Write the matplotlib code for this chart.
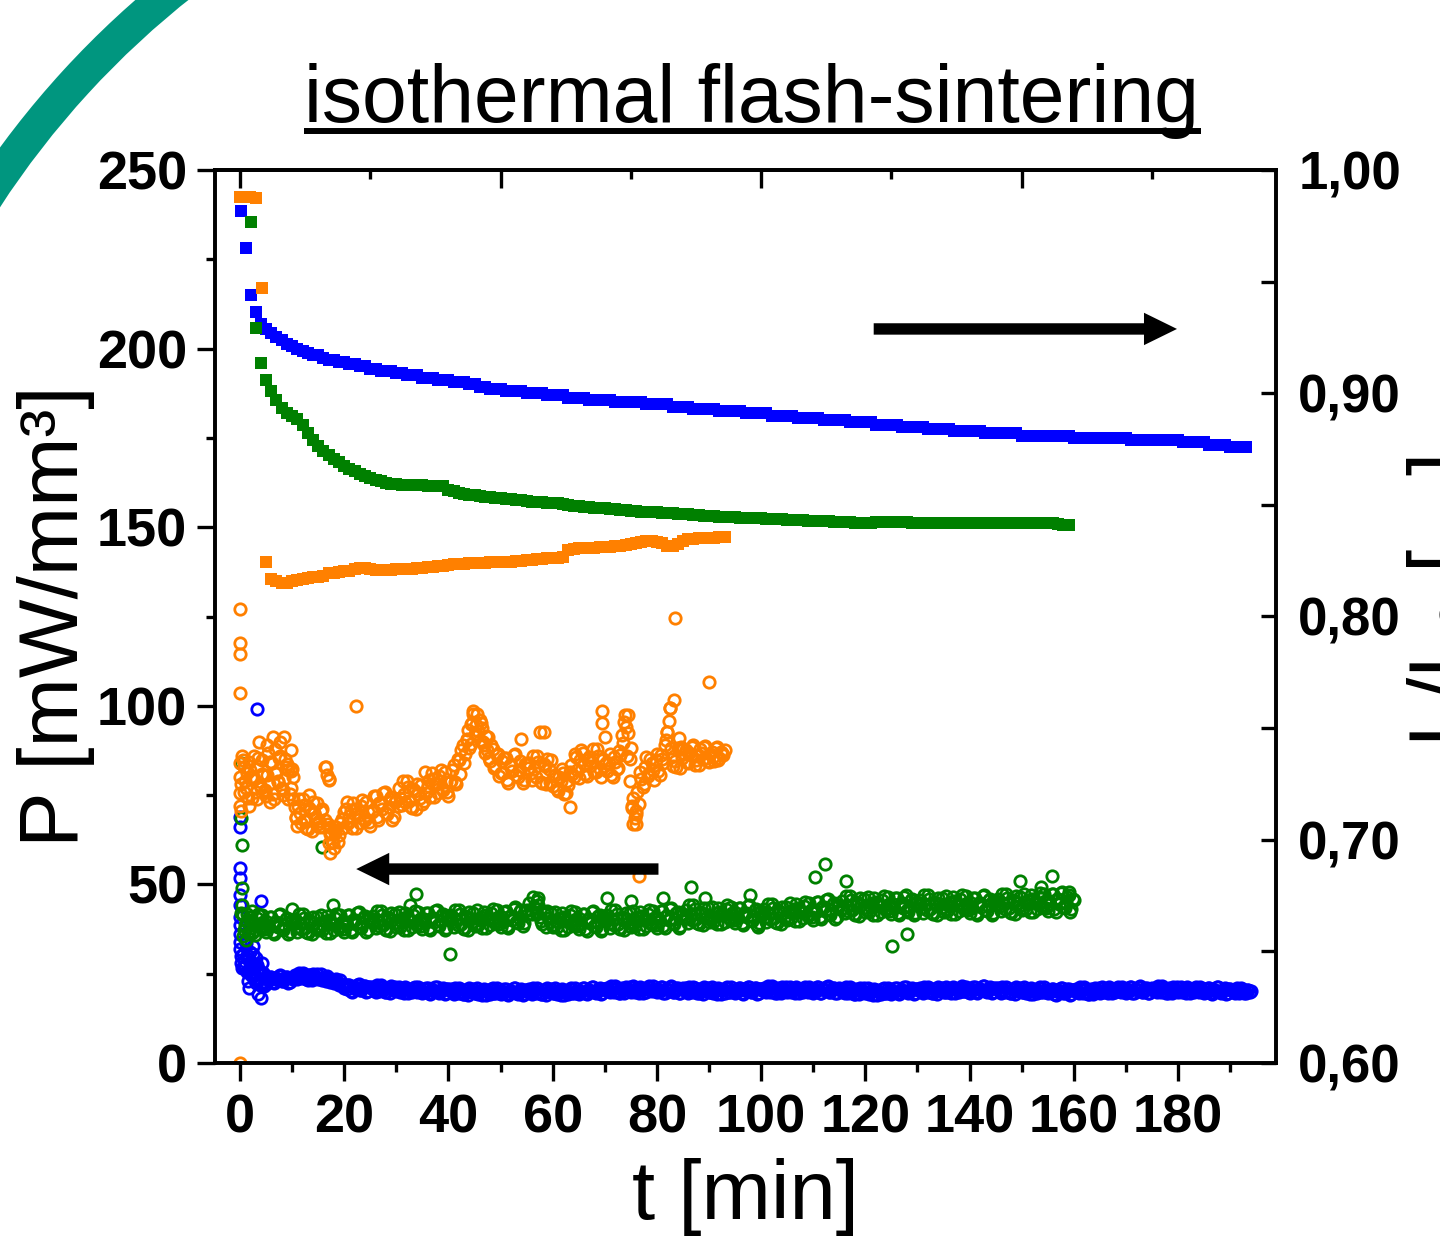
import numpy as np
import matplotlib as mpl
mpl.use('Agg')
import matplotlib.pyplot as plt
from matplotlib.patches import Wedge
from matplotlib.ticker import MultipleLocator, FuncFormatter

# ---------------- shrinkage L/L0 (right axis, filled squares) ----------------
# first readings before the 1-min logging starts
t_blue_L0 = [0.1, 1.15, 2.1, 3.1]
L_blue0 = [0.9818, 0.9651, 0.944, 0.9365]
# one value per minute from t = 4 min
L_blue = [
    .931, .929, .927, .925, .924, .922, .921, .920, .919, .918,
    .917, .917, .916, .915, .915, .914, .914, .913, .913, .912,
    .912, .911, .911, .910, .910, .910, .909, .909, .908, .908,
    .908, .907, .907, .907, .906, .906, .906, .905, .905, .905,
    .904, .904, .903, .903, .902, .902, .902, .901, .901, .901,
    .901, .900, .900, .900, .900, .899, .899, .899, .899, .898,
    .898, .898, .898, .897, .897, .897, .897, .897, .896, .896,
    .896, .896, .896, .896, .895, .895, .895, .895, .895, .894,
    .894, .894, .894, .893, .893, .893, .893, .893, .892, .892,
    .892, .892, .892, .891, .891, .891, .891, .891, .890, .890,
    .890, .890, .890, .889, .889, .889, .889, .889, .888, .888,
    .888, .888, .888, .887, .887, .887, .887, .887, .886, .886,
    .886, .886, .886, .885, .885, .885, .885, .885, .884, .884,
    .884, .884, .884, .883, .883, .883, .883, .883, .883, .882,
    .882, .882, .882, .882, .882, .882, .881, .881, .881, .881,
    .881, .881, .881, .881, .881, .881, .880, .880, .880, .880,
    .880, .880, .880, .880, .880, .880, .880, .879, .879, .879,
    .879, .879, .879, .879, .879, .879, .879, .878, .878, .878,
    .878, .878, .877, .877, .877, .877, .876, .876, .876, .876]

t_green_L0 = [2.1, 3.1]
L_green0 = [0.9768, 0.9294]
# one value per minute from t = 4 min
L_green = [
    .9136, .9059, .9008, .8970, .8936, .8910, .8896, .8885, .8856, .8824,
    .8790, .8765, .8742, .8723, .8707, .8690, .8675, .8662, .8650, .8640,
    .8630, .8620, .8613, .8605, .8598, .8595, .8593, .8591, .8590, .8589,
    .8588, .8587, .8586, .8585, .8584, .8583, .8568, .8560, .8555, .8550,
    .8546, .8542, .8539, .8536, .8534, .8531, .8530, .8528, .8525, .8522,
    .8520, .8516, .8514, .8512, .8511, .8510, .8509, .8508, .8506, .8499,
    .8496, .8494, .8492, .8490, .8488, .8486, .8484, .8482, .8480, .8478,
    .8476, .8474, .8472, .8470, .8468, .8467, .8466, .8465, .8463, .8462,
    .8461, .8459, .8457, .8455, .8453, .8451, .8450, .8448, .8447, .8446,
    .8445, .8444, .8443, .8442, .8441, .8440, .8439, .8438, .8437, .8436,
    .8435, .8434, .8433, .8432, .8431, .8430, .8429, .8428, .8427, .8426,
    .8425, .8424, .8423, .8422, .8421, .8420, .8420, .8421, .8422, .8422,
    .8422, .8422, .8422, .8422, .8422, .8421, .8421, .8421, .8421, .8421,
    .8421, .8421, .8421, .8421, .8420, .8420, .8420, .8420, .8420, .8420,
    .8420, .8420, .8420, .8420, .8419, .8419, .8419, .8419, .8419, .8419,
    .8418, .8418, .8418, .8416, .8412, .8408]

t_orange_L0 = [0.0, 1.0, 2.0, 3.0, 4.2, 5.0]
L_orange0 = [0.988, 0.988, 0.9878, 0.9875, 0.947, 0.8245]
# one value per minute from t = 6 min
L_orange = [
    .8168, .8157, .8152, .8152, .8157, .8163, .8168, .8171, .8176, .8179,
    .8181, .8197, .8197, .8200, .8203, .8205, .8213, .8216, .8216, .8214,
    .8208, .8208, .8209, .8210, .8211, .8212, .8213, .8214, .8216, .8218,
    .8220, .8222, .8225, .8228, .8231, .8234, .8236, .8237, .8238, .8239,
    .8240, .8241, .8242, .8243, .8244, .8245, .8246, .8248, .8250, .8252,
    .8254, .8256, .8258, .8260, .8262, .8264, .8266, .8300, .8304, .8306,
    .8307, .8308, .8309, .8310, .8311, .8313, .8315, .8318, .8321, .8325,
    .8330, .8334, .8336, .8336, .8334, .8328, .8318, .8315, .8325, .8338,
    .8345, .8348, .8350, .8351, .8352, .8353, .8354, .8355]

# ---------------- power density P (left axis, open circles) ----------------
# readings every 0.5 min from t = 0.5 min ...
P_blue = [
    30.5, 27.2, 29.0, 25.1, 27.9, 23.6, 26.4, 22.5, 25.3, 22.0,
    23.2, 24.2, 22.5, 23.7, 24.4, 23.0, 23.4, 24.1, 22.7, 23.9,
    24.7, 23.5, 24.3, 25.2, 23.8, 23.3, 24.5, 25.0, 24.0, 23.6,
    24.9, 23.8, 22.9, 23.8, 23.2, 22.3, 23.4, 21.9, 22.1, 21.1,
    20.7, 21.7, 20.0, 21.2, 21.9, 20.5, 20.9, 21.6, 20.2, 21.4,
    21.2, 20.0, 20.8, 21.7, 20.3, 19.8, 21.0, 21.5, 20.5, 20.1,
    21.3, 20.3, 19.5, 20.8, 20.5, 19.8, 21.4, 20.0, 20.6, 19.6,
    20.0, 21.0, 19.3, 20.5, 21.2, 19.8, 20.2, 20.9, 19.5, 20.7,
    20.6, 19.4, 20.2, 21.1, 19.7, 19.2, 20.4, 20.9, 19.9, 19.5,
    20.9, 19.9, 19.1, 20.4, 20.1, 19.4, 21.0, 19.6, 20.2, 19.2,
    19.7, 20.7, 19.0, 20.2, 20.9, 19.5, 19.9, 20.6, 19.2, 20.4,
    20.6, 19.4, 20.2, 21.1, 19.7, 19.2, 20.4, 20.9, 19.9, 19.5,
    20.9, 19.9, 19.1, 20.4, 20.1, 19.4, 21.0, 19.6, 20.2, 19.2,
    20.0, 21.0, 19.3, 20.5, 21.2, 19.8, 20.2, 20.9, 19.5, 20.7,
    21.0, 19.8, 20.6, 21.5, 20.1, 19.6, 20.8, 21.3, 20.3, 19.9,
    21.5, 20.5, 19.7, 21.0, 20.7, 20.0, 21.6, 20.2, 20.8, 19.8,
    20.2, 21.2, 19.5, 20.7, 21.4, 20.0, 20.4, 21.1, 19.7, 20.9,
    20.9, 19.7, 20.5, 21.4, 20.0, 19.5, 20.7, 21.2, 20.2, 19.8,
    21.2, 20.2, 19.4, 20.7, 20.4, 19.7, 21.3, 19.9, 20.5, 19.5,
    20.1, 21.1, 19.4, 20.6, 21.3, 19.9, 20.3, 21.0, 19.6, 20.8,
    21.0, 19.8, 20.6, 21.5, 20.1, 19.6, 20.8, 21.3, 20.3, 19.9,
    21.3, 20.3, 19.5, 20.8, 20.5, 19.8, 21.4, 20.0, 20.6, 19.6,
    20.2, 21.2, 19.5, 20.7, 21.4, 20.0, 20.4, 21.1, 19.7, 20.9,
    20.7, 19.5, 20.3, 21.2, 19.8, 19.3, 20.5, 21.0, 20.0, 19.6,
    20.9, 19.9, 19.1, 20.4, 20.1, 19.4, 21.0, 19.6, 20.2, 19.2,
    20.0, 21.0, 19.3, 20.5, 21.2, 19.8, 20.2, 20.9, 19.5, 20.7,
    20.9, 19.7, 20.5, 21.4, 20.0, 19.5, 20.7, 21.2, 20.2, 19.8,
    21.4, 20.4, 19.6, 20.9, 20.6, 19.9, 21.5, 20.1, 20.7, 19.7,
    20.3, 21.3, 19.6, 20.8, 21.5, 20.1, 20.5, 21.2, 19.8, 21.0,
    20.9, 19.7, 20.5, 21.4, 20.0, 19.5, 20.7, 21.2, 20.2, 19.8,
    21.2, 20.2, 19.4, 20.7, 20.4, 19.7, 21.3, 19.9, 20.5, 19.5,
    19.8, 20.8, 19.1, 20.3, 21.0, 19.6, 20.0, 20.7, 19.3, 20.5,
    20.7, 19.5, 20.3, 21.2, 19.8, 19.3, 20.5, 21.0, 20.0, 19.6,
    21.3, 20.3, 19.5, 20.8, 20.5, 19.8, 21.4, 20.0, 20.6, 19.6,
    20.2, 21.2, 19.5, 20.7, 21.4, 20.0, 20.4, 21.1, 19.7, 20.9,
    21.0, 19.8, 20.6, 21.5, 20.1, 19.6, 20.8, 21.3, 20.3, 19.9,
    21.3, 20.3, 19.5, 20.8, 20.5, 19.8, 21.4, 20.0, 20.6, 19.6,
    20.0, 21.0, 19.3, 20.5, 21.2, 19.8, 20.2, 20.9, 19.5, 20.7,
    20.5, 19.6, 20.2, 20.9, 19.8, 19.5, 20.3, 20.2]
# ... and the interleaved readings every 0.5 min from t = 0.75 min
P_blue_b = [
    28.6, 30.2, 26.3, 27.0, 24.8, 26.1, 23.4, 24.9, 22.6, 23.5,
    24.2, 22.7, 23.7, 23.3, 24.5, 22.9, 24.0, 22.5, 23.8, 23.5,
    24.0, 25.2, 23.7, 24.8, 23.4, 24.6, 23.2, 24.3, 24.9, 23.8,
    23.3, 24.2, 24.4, 22.6, 23.1, 23.3, 22.3, 23.2, 21.5, 21.9,
    21.7, 20.2, 21.2, 20.8, 22.0, 20.4, 21.5, 20.0, 21.3, 21.0,
    20.5, 21.7, 20.2, 21.3, 19.9, 21.1, 19.7, 20.8, 21.4, 20.3,
    19.8, 20.7, 21.2, 19.5, 20.4, 21.0, 20.1, 21.3, 19.9, 20.6,
    21.0, 19.5, 20.5, 20.1, 21.3, 19.7, 20.8, 19.3, 20.6, 20.3,
    19.9, 21.1, 19.6, 20.7, 19.3, 20.5, 19.1, 20.2, 20.8, 19.7,
    19.4, 20.3, 20.8, 19.1, 20.0, 20.6, 19.7, 20.9, 19.5, 20.2,
    20.7, 19.2, 20.2, 19.8, 21.0, 19.4, 20.5, 19.0, 20.3, 20.0,
    19.9, 21.1, 19.6, 20.7, 19.3, 20.5, 19.1, 20.2, 20.8, 19.7,
    19.4, 20.3, 20.8, 19.1, 20.0, 20.6, 19.7, 20.9, 19.5, 20.2,
    21.0, 19.5, 20.5, 20.1, 21.3, 19.7, 20.8, 19.3, 20.6, 20.3,
    20.3, 21.5, 20.0, 21.1, 19.7, 20.9, 19.5, 20.6, 21.2, 20.1,
    20.0, 20.9, 21.4, 19.7, 20.6, 21.2, 20.3, 21.5, 20.1, 20.8,
    21.2, 19.7, 20.7, 20.3, 21.5, 19.9, 21.0, 19.5, 20.8, 20.5,
    20.2, 21.4, 19.9, 21.0, 19.6, 20.8, 19.4, 20.5, 21.1, 20.0,
    19.7, 20.6, 21.1, 19.4, 20.3, 20.9, 20.0, 21.2, 19.8, 20.5,
    21.1, 19.6, 20.6, 20.2, 21.4, 19.8, 20.9, 19.4, 20.7, 20.4,
    20.3, 21.5, 20.0, 21.1, 19.7, 20.9, 19.5, 20.6, 21.2, 20.1,
    19.8, 20.7, 21.2, 19.5, 20.4, 21.0, 20.1, 21.3, 19.9, 20.6,
    21.2, 19.7, 20.7, 20.3, 21.5, 19.9, 21.0, 19.5, 20.8, 20.5,
    20.0, 21.2, 19.7, 20.8, 19.4, 20.6, 19.2, 20.3, 20.9, 19.8,
    19.4, 20.3, 20.8, 19.1, 20.0, 20.6, 19.7, 20.9, 19.5, 20.2,
    21.0, 19.5, 20.5, 20.1, 21.3, 19.7, 20.8, 19.3, 20.6, 20.3,
    20.2, 21.4, 19.9, 21.0, 19.6, 20.8, 19.4, 20.5, 21.1, 20.0,
    19.9, 20.8, 21.3, 19.6, 20.5, 21.1, 20.2, 21.4, 20.0, 20.7,
    21.3, 19.8, 20.8, 20.4, 21.6, 20.0, 21.1, 19.6, 20.9, 20.6,
    20.2, 21.4, 19.9, 21.0, 19.6, 20.8, 19.4, 20.5, 21.1, 20.0,
    19.7, 20.6, 21.1, 19.4, 20.3, 20.9, 20.0, 21.2, 19.8, 20.5,
    20.8, 19.3, 20.3, 19.9, 21.1, 19.5, 20.6, 19.1, 20.4, 20.1,
    20.0, 21.2, 19.7, 20.8, 19.4, 20.6, 19.2, 20.3, 20.9, 19.8,
    19.8, 20.7, 21.2, 19.5, 20.4, 21.0, 20.1, 21.3, 19.9, 20.6,
    21.2, 19.7, 20.7, 20.3, 21.5, 19.9, 21.0, 19.5, 20.8, 20.5,
    20.3, 21.5, 20.0, 21.1, 19.7, 20.9, 19.5, 20.6, 21.2, 20.1,
    19.8, 20.7, 21.2, 19.5, 20.4, 21.0, 20.1, 21.3, 19.9, 20.6,
    21.0, 19.5, 20.5, 20.1, 21.3, 19.7, 20.8, 19.3, 20.6, 20.3,
    20.0, 21.0, 19.6, 20.7, 19.5, 20.4, 19.9]
# scattered readings right after the flash
t_blue_Px = [0.0, 0.0, 0.0, 0.0, 0.0, 0.0, 0.0, 0.0, 0.0, 0.0, 0.0, 0.2, 0.2,
             0.3, 1.1, 2.4, 2.5, 3.1, 3.2, 3.4, 4.1, 4.3, 4.1, 3.6, 3.0, 1.8,
             4.6, 2.2, 0.8, 1.4, 1.9, 2.7, 3.3, 3.9, 4.4, 1.6, 2.9]
P_blue_x = [69.0, 66.0, 54.6, 51.8, 47.0, 44.2, 41.0, 38.5, 36.0, 34.0, 32.0,
            30.0, 28.0, 26.5, 33.5, 32.8, 30.4, 29.4, 99.0, 19.3, 18.2, 28.0,
            45.4, 26.0, 22.5, 21.0, 21.5, 24.5, 27.0, 25.5, 31.0, 23.5, 27.5,
            21.8, 25.2, 22.9, 26.8]

P_green = [
    41.3, 38.5, 36.3, 39.9, 39.1, 37.1, 41.6, 37.7, 39.4, 36.6,
    38.0, 40.8, 36.0, 39.4, 41.3, 37.4, 38.5, 40.5, 36.6, 39.9,
    40.2, 36.8, 39.1, 41.6, 37.7, 36.3, 39.6, 41.0, 38.2, 37.1,
    41.5, 38.7, 36.5, 40.1, 39.3, 37.3, 41.8, 37.9, 39.6, 36.8,
    38.7, 41.5, 36.7, 40.1, 42.0, 38.1, 39.2, 41.2, 37.3, 40.6,
    41.1, 37.7, 40.0, 42.5, 38.6, 37.2, 40.5, 41.9, 39.1, 38.0,
    42.3, 39.5, 37.3, 40.9, 40.1, 38.1, 42.6, 38.7, 40.4, 37.6,
    39.2, 42.0, 37.2, 40.6, 42.5, 38.6, 39.7, 41.7, 37.8, 41.1,
    41.4, 38.0, 40.3, 42.8, 38.9, 37.5, 40.8, 42.2, 39.4, 38.3,
    42.7, 39.9, 37.7, 41.3, 40.5, 38.5, 43.0, 39.1, 40.8, 38.0,
    39.6, 42.5, 37.8, 41.2, 43.2, 39.4, 40.7, 42.9, 39.1, 42.8,
    44.7, 41.8, 43.8, 45.4, 40.9, 38.8, 41.6, 42.5, 39.4, 38.1,
    42.3, 39.5, 37.3, 40.9, 40.1, 38.1, 42.6, 38.7, 40.4, 37.6,
    39.0, 41.8, 37.0, 40.4, 42.3, 38.4, 39.5, 41.5, 37.6, 40.9,
    41.3, 37.9, 40.2, 42.7, 38.8, 37.4, 40.7, 42.1, 39.3, 38.2,
    42.5, 39.7, 37.5, 41.1, 40.3, 38.3, 42.8, 38.9, 40.6, 37.8,
    39.8, 42.6, 37.8, 41.2, 43.1, 39.2, 40.3, 42.3, 38.4, 41.7,
    42.7, 39.3, 41.6, 44.1, 40.2, 38.8, 42.1, 43.5, 40.7, 39.6,
    43.8, 41.0, 38.8, 42.4, 41.6, 39.6, 44.1, 40.2, 41.9, 39.1,
    40.6, 43.4, 38.6, 42.0, 43.9, 40.0, 41.1, 43.1, 39.2, 42.5,
    43.0, 39.6, 41.9, 44.4, 40.5, 39.1, 42.4, 43.8, 41.0, 39.9,
    44.8, 42.0, 39.8, 43.4, 42.6, 40.6, 45.1, 41.2, 42.9, 40.1,
    42.3, 45.1, 40.3, 43.7, 45.6, 41.7, 42.8, 44.8, 40.9, 44.2,
    45.3, 41.9, 44.2, 46.7, 42.8, 41.4, 44.7, 46.1, 43.3, 42.2,
    46.5, 43.7, 41.5, 45.1, 44.3, 42.3, 46.8, 42.9, 44.6, 41.8,
    43.3, 46.1, 41.3, 44.7, 46.6, 42.7, 43.8, 45.8, 41.9, 45.2,
    45.5, 42.1, 44.4, 46.9, 43.0, 41.6, 44.9, 46.3, 43.5, 42.4,
    46.7, 43.9, 41.7, 45.3, 44.5, 42.5, 47.0, 43.1, 44.8, 42.0,
    43.5, 46.3, 41.5, 44.9, 46.8, 42.9, 44.0, 46.0, 42.1, 45.4,
    45.9, 42.5, 44.8, 47.3, 43.4, 42.0, 45.3, 46.7, 43.9, 42.8,
    47.3, 44.5, 42.3, 45.9, 45.1, 43.1, 47.6, 43.7, 45.4, 42.6,
    44.4, 47.2, 42.4, 45.8, 47.7, 43.8, 44.9, 46.9, 43.0, 45.6]
P_green_b = [
    37.1, 39.6, 41.0, 36.3, 38.8, 40.5, 38.0, 41.3, 37.4, 39.4,
    40.8, 36.6, 39.4, 38.2, 41.6, 37.1, 40.2, 36.0, 39.6, 38.8,
    38.2, 41.6, 37.4, 40.5, 36.6, 39.9, 36.0, 39.1, 40.8, 37.7,
    37.3, 39.8, 41.2, 36.5, 39.0, 40.7, 38.2, 41.5, 37.6, 39.6,
    41.5, 37.3, 40.1, 38.9, 42.3, 37.8, 40.9, 36.7, 40.3, 39.5,
    39.1, 42.5, 38.3, 41.4, 37.5, 40.8, 36.9, 40.0, 41.7, 38.6,
    38.1, 40.6, 42.0, 37.3, 39.8, 41.5, 39.0, 42.3, 38.4, 40.4,
    42.0, 37.8, 40.6, 39.4, 42.8, 38.3, 41.4, 37.2, 40.8, 40.0,
    39.4, 42.8, 38.6, 41.7, 37.8, 41.1, 37.2, 40.3, 42.0, 38.9,
    38.5, 41.0, 42.4, 37.7, 40.2, 41.9, 39.4, 42.7, 38.8, 40.8,
    42.4, 38.4, 41.2, 40.1, 43.7, 39.3, 42.5, 38.4, 42.5, 41.8,
    42.7, 46.6, 42.1, 44.3, 39.8, 42.4, 38.0, 40.6, 42.0, 38.7,
    38.1, 40.6, 42.0, 37.3, 39.8, 41.5, 39.0, 42.3, 38.4, 40.4,
    41.8, 37.6, 40.4, 39.2, 42.6, 38.1, 41.2, 37.0, 40.6, 39.8,
    39.3, 42.7, 38.5, 41.6, 37.7, 41.0, 37.1, 40.2, 41.9, 38.8,
    38.3, 40.8, 42.2, 37.5, 40.0, 41.7, 39.2, 42.5, 38.6, 40.6,
    42.6, 38.4, 41.2, 40.0, 43.4, 38.9, 42.0, 37.8, 41.4, 40.6,
    40.7, 44.1, 39.9, 43.0, 39.1, 42.4, 38.5, 41.6, 43.3, 40.2,
    39.6, 42.1, 43.5, 38.8, 41.3, 43.0, 40.5, 43.8, 39.9, 41.9,
    43.4, 39.2, 42.0, 40.8, 44.2, 39.7, 42.8, 38.6, 42.2, 41.4,
    41.0, 44.4, 40.2, 43.3, 39.4, 42.7, 38.8, 41.9, 43.6, 40.5,
    40.6, 43.1, 44.5, 39.8, 42.3, 44.0, 41.5, 44.8, 40.9, 42.9,
    45.1, 40.9, 43.7, 42.5, 45.9, 41.4, 44.5, 40.3, 43.9, 43.1,
    43.3, 46.7, 42.5, 45.6, 41.7, 45.0, 41.1, 44.2, 45.9, 42.8,
    42.3, 44.8, 46.2, 41.5, 44.0, 45.7, 43.2, 46.5, 42.6, 44.6,
    46.1, 41.9, 44.7, 43.5, 46.9, 42.4, 45.5, 41.3, 44.9, 44.1,
    43.5, 46.9, 42.7, 45.8, 41.9, 45.2, 41.3, 44.4, 46.1, 43.0,
    42.5, 45.0, 46.4, 41.7, 44.2, 45.9, 43.4, 46.7, 42.8, 44.8,
    46.3, 42.1, 44.9, 43.7, 47.1, 42.6, 45.7, 41.5, 45.1, 44.3,
    43.9, 47.3, 43.1, 46.2, 42.3, 45.6, 41.7, 44.8, 46.5, 43.4,
    43.1, 45.6, 47.0, 42.3, 44.8, 46.5, 44.0, 47.3, 43.4, 45.4,
    47.2, 43.0, 45.8, 44.6, 48.0, 43.5, 46.6, 42.4, 46.0]
t_green_Px = [0.2, 0.2, 0.3, 0.3, 0.4, 1.1, 10.0, 15.7, 17.9, 32.6, 33.8, 40.3,
              57.1, 70.5, 75.1, 81.2, 86.5, 89.2, 97.8, 99.4, 110.4, 112.3,
              116.2, 125.2, 128.0, 149.7, 153.8, 155.9, 159.1,
              0.1, 0.6, 1.3, 1.8, 2.3, 2.8, 3.6]
P_green_x = [84.0, 68.6, 61.0, 44.2, 49.0, 34.4, 43.0, 60.6, 44.2, 44.2, 47.2,
             30.5, 46.1, 46.1, 45.3, 46.1, 49.2, 46.1, 47.0, 38.0, 52.2, 55.7,
             51.0, 32.8, 36.0, 51.0, 49.4, 52.3, 48.0,
             42.0, 35.5, 41.8, 36.2, 42.6, 35.8, 41.4]

P_orange = [
    84.9, 78.9, 74.1, 81.9, 80.1, 75.9, 85.5, 77.1, 80.7, 74.7,
    78.2, 84.2, 74.0, 81.2, 85.4, 77.0, 79.4, 83.6, 75.2, 82.4,
    71.8, 66.3, 70.0, 74.0, 67.7, 65.4, 70.9, 73.1, 68.6, 66.8,
    70.5, 66.1, 83.0, 79.2, 64.5, 60.3, 66.2, 63.8, 68.4, 70.2,
    73.1, 69.1, 65.9, 71.1, 69.9, 67.1, 73.5, 67.9, 70.3, 66.3,
    70.8, 74.8, 68.0, 72.8, 75.6, 70.0, 71.6, 74.4, 68.8, 73.6,
    77.0, 72.2, 75.4, 79.0, 73.4, 71.4, 76.2, 78.2, 74.2, 72.6,
    81.6, 77.6, 74.4, 79.6, 78.4, 75.6, 82.0, 76.4, 78.8, 74.8,
    79.0, 83.5, 78.2, 84.9, 87.6, 84.0, 90.8, 88.2, 95.3, 92.0,
    97.6, 90.4, 93.9, 86.7, 91.2, 84.5, 88.0, 83.1, 86.4, 81.2,
    81.3, 85.3, 78.5, 83.3, 86.1, 80.5, 82.1, 90.6, 79.3, 84.1,
    84.0, 79.2, 82.4, 86.0, 92.8, 78.4, 83.2, 85.2, 78.6, 77.6,
    80.5, 76.1, 78.9, 81.2, 75.6, 77.8, 83.4, 80.2, 85.6, 79.8,
    87.6, 83.6, 80.4, 85.6, 84.4, 81.6, 88.0, 82.4, 84.8, 91.2,
    81.8, 86.4, 80.0, 84.3, 82.6, 86.2, 89.5, 94.1, 97.4, 88.2,
    74.3, 69.8, 72.4, 79.5, 78.1, 85.6, 81.2, 84.1, 79.3, 86.4,
    80.6, 85.0, 88.9, 92.7, 99.4, 83.1, 84.6, 88.3, 82.5, 87.8,
    87.5, 83.9, 86.3, 89.0, 84.8, 83.3, 86.9, 88.4, 85.4, 84.2,
    87.1, 84.6, 88.6, 85.3, 86.8, 87.6]
P_orange_b = [
    75.9, 81.3, 84.3, 74.1, 79.5, 83.1, 77.7, 84.9, 76.5, 80.7,
    84.2, 75.2, 81.2, 78.8, 86.0, 76.4, 83.0, 74.0, 81.8, 80.0,
    68.6, 74.0, 67.2, 72.2, 65.9, 71.3, 65.0, 70.0, 72.7, 67.7,
    71.0, 68.0, 80.5, 66.0, 62.0, 65.2, 61.8, 67.3, 65.8, 71.0,
    67.1, 70.7, 72.7, 65.9, 69.5, 71.9, 68.3, 73.1, 67.5, 70.3,
    74.8, 68.8, 72.8, 71.2, 76.0, 69.6, 74.0, 68.0, 73.2, 72.0,
    74.2, 79.0, 73.0, 77.4, 71.8, 76.6, 71.0, 75.4, 77.8, 73.4,
    75.6, 79.2, 81.2, 74.4, 78.0, 80.4, 76.8, 81.6, 76.0, 78.8,
    82.0, 78.6, 85.2, 81.0, 89.1, 86.5, 93.2, 89.4, 97.8, 94.5,
    93.0, 95.2, 88.9, 91.6, 85.3, 89.0, 82.6, 86.2, 80.4, 84.6,
    85.3, 79.3, 83.3, 81.7, 86.5, 80.1, 84.5, 78.5, 83.7, 82.5,
    81.2, 86.0, 80.0, 84.4, 78.8, 83.6, 78.0, 82.4, 84.8, 80.4,
    76.6, 80.2, 82.2, 75.4, 79.0, 81.4, 80.8, 86.6, 82.0, 84.8,
    86.8, 80.8, 84.8, 83.2, 88.0, 81.6, 86.0, 80.0, 85.2, 84.0,
    84.1, 80.5, 85.6, 82.2, 87.4, 91.8, 95.6, 86.0, 79.0, 71.5,
    68.5, 75.8, 81.5, 77.2, 83.0, 80.4, 85.2, 82.0, 84.9, 81.8,
    86.2, 84.0, 90.5, 95.8, 88.2, 86.0, 82.9, 88.0, 85.4, 86.6,
    84.2, 86.9, 88.4, 83.3, 86.0, 87.8, 85.1, 88.7, 84.5, 86.6,
    85.6, 88.2, 84.9, 87.0, 86.2]
t_orange_Px = [0.0, 0.0, 0.0, 0.0, 0.0, 0.0, 0.0, 0.0, 0.0, 0.2, 0.2, 0.3, 5.4,
               6.3, 8.4, 9.8, 16.4, 16.8, 17.0, 17.0, 17.2, 17.3, 22.3, 44.8,
               46.0, 58.4, 63.4, 69.5, 69.5, 73.9, 75.5, 75.9, 76.0, 76.6,
               82.0, 82.6, 83.3, 83.4, 89.9,
               0.7, 1.2, 1.7, 2.2, 2.7, 3.2, 3.7, 4.2, 4.7, 5.2, 5.7, 6.2,
               6.7, 7.2, 7.7, 8.2, 8.7, 9.2, 9.7, 10.2, 10.7, 11.2, 12.2, 13.2,
               14.2, 15.2, 17.6, 18.2, 43.6, 44.3, 45.3, 46.7, 47.4, 74.4, 74.8,
               75.2, 84.2, 84.7]
P_orange_x = [127.0, 117.5, 114.5, 103.6, 0.0, 80.0, 75.5, 72.0, 84.0, 70.5,
              78.0, 86.0, 86.8, 91.3, 91.3, 87.6, 83.0, 67.0, 79.4, 61.5, 64.0,
              58.8, 100.0, 98.6, 96.0, 92.8, 71.8, 98.5, 95.3, 97.4, 67.0, 66.9,
              70.5, 52.3, 92.7, 99.4, 101.6, 124.7, 106.8,
              83.0, 77.0, 72.0, 80.0, 86.0, 74.0, 90.0, 81.0, 76.0, 89.0, 73.0,
              84.0, 88.0, 79.0, 90.0, 75.0, 85.0, 82.0, 77.0, 74.0, 69.0, 72.0,
              68.0, 75.0, 70.0, 66.0, 62.0, 64.5, 90.5, 95.0, 92.0, 90.0, 87.5,
              92.5, 85.0, 72.0, 91.0, 88.5]

col_blue = '#0000ff'
col_green = '#008000'
col_orange = '#ff8000'


def merged(pairs):
    t = np.concatenate([np.asarray(p[0], float) for p in pairs])
    v = np.concatenate([np.asarray(p[1], float) for p in pairs])
    order = np.argsort(t, kind='stable')
    return t[order], v[order]


def clock(start, step, values):
    return start + step * np.arange(len(values))


plt.rcParams['font.family'] = ['Liberation Sans', 'DejaVu Sans']
plt.rcParams['mathtext.default'] = 'regular'

W, H = 1440, 1243
fig = plt.figure(figsize=(W / 100, H / 100), dpi=100)

# backdrop in pixel units (corner arc, title underline)
bg = fig.add_axes([0, 0, 1, 1], zorder=-5)
bg.set_xlim(0, W)
bg.set_ylim(0, H)
bg.axis('off')
bg.add_patch(Wedge((737, H - 688), 914, 100, 175, width=34,
                   facecolor='#00967f', edgecolor='none'))

ax = fig.add_axes([215 / W, 1 - 1063 / H, (1276 - 215) / W, (1063 - 170) / H])
ax2 = ax.twinx()

# power density, open circles
power = [
    ([(clock(0.5, 0.5, P_blue), P_blue), (clock(0.75, 0.5, P_blue_b), P_blue_b),
      (t_blue_Px, P_blue_x)], col_blue),
    ([(clock(0.5, 0.5, P_green), P_green), (clock(0.75, 0.5, P_green_b), P_green_b),
      (t_green_Px, P_green_x)], col_green),
    ([(clock(0.5, 0.5, P_orange), P_orange), (clock(0.75, 0.5, P_orange_b), P_orange_b),
      (t_orange_Px, P_orange_x)], col_orange),
]
for pairs, c in power:
    t, v = merged(pairs)
    ax.plot(t, v, ls='none', marker='o', ms=8.2, mew=2.0, mec=c, mfc='none')

# shrinkage, filled squares
for t0, v0, start, v, c in [
        (t_blue_L0, L_blue0, 4, L_blue, col_blue),
        (t_green_L0, L_green0, 4, L_green, col_green),
        (t_orange_L0, L_orange0, 6, L_orange, col_orange)]:
    t, L = merged([(t0, v0), (clock(start, 1, v), v)])
    ax2.plot(t, L, ls='none', marker='s', ms=9.2, mew=0, color=c)

# arrows pointing to the matching axis
arr = dict(arrowstyle='simple,head_length=2.75,head_width=2.7,tail_width=0.95',
           mutation_scale=8.64, fc='black', ec='none', shrinkA=0, shrinkB=0)
ax2.annotate('', xy=(179.8, 205.5), xytext=(121.6, 205.5),
             xycoords=ax.transData, textcoords=ax.transData, arrowprops=arr)
ax2.annotate('', xy=(22.3, 54.3), xytext=(80.3, 54.3),
             xycoords=ax.transData, textcoords=ax.transData, arrowprops=arr)

ax.set_xlim(-4.8, 198.8)
ax.set_ylim(0, 250)
ax2.set_ylim(0.6, 1.0)

ax.xaxis.set_major_locator(MultipleLocator(20))
ax.xaxis.set_minor_locator(MultipleLocator(10))
ax.yaxis.set_major_locator(MultipleLocator(50))
ax.yaxis.set_minor_locator(MultipleLocator(25))
ax2.yaxis.set_major_locator(MultipleLocator(0.1))
ax2.yaxis.set_minor_locator(MultipleLocator(0.05))
ax2.yaxis.set_major_formatter(FuncFormatter(lambda v, p: ('%.2f' % v).replace('.', ',')))

lw = 2.6
for a in (ax, ax2):
    for s in a.spines.values():
        s.set_linewidth(lw)

ax.tick_params(axis='x', which='major', direction='out', length=13, width=2.4,
               labelsize=39, pad=9)
ax.tick_params(axis='y', which='major', direction='out', length=13, width=2.4,
               labelsize=39, pad=7)
ax.tick_params(which='minor', direction='out', length=6.5, width=2.4)
ax2.tick_params(axis='y', which='both', direction='in', length=11, width=2.4,
                labelsize=38, pad=16)

top = ax.secondary_xaxis('top')
top.set_xticks([0, 50, 100, 150])
top.set_xticks([25, 75, 125, 175], minor=True)
top.tick_params(which='major', direction='in', length=13, width=2.4, labeltop=False)
top.tick_params(which='minor', direction='in', length=6.5, width=2.4)
top.spines['top'].set_linewidth(lw)

for lab in ax.get_xticklabels() + ax.get_yticklabels() + ax2.get_yticklabels():
    lab.set_fontweight('bold')

ax.set_xlabel('t [min]', fontsize=60)
ax.xaxis.set_label_coords(0.5, -(1158 - 1063) / (1063 - 170))
ax.set_ylabel('P [mW/mm³]', fontsize=60)
ax.yaxis.set_label_coords((95 - 215) / (1276 - 215), 0.5)

fig.text(1405 / W, 1 - 601 / H, 'L/L$_0$ [ - ]', rotation=90, fontsize=60,
         ha='left', va='center')

title = fig.text(751.5 / W, 1 - 122 / H, 'isothermal flash-sintering',
                 fontsize=58, ha='center', va='baseline')
fig.canvas.draw()
bb = title.get_window_extent(fig.canvas.get_renderer())
bg.plot([bb.x0, bb.x1 + 2], [H - 131, H - 131], color='black', lw=4.3,
        solid_capstyle='butt')

fig.savefig('out.png', dpi=100)
